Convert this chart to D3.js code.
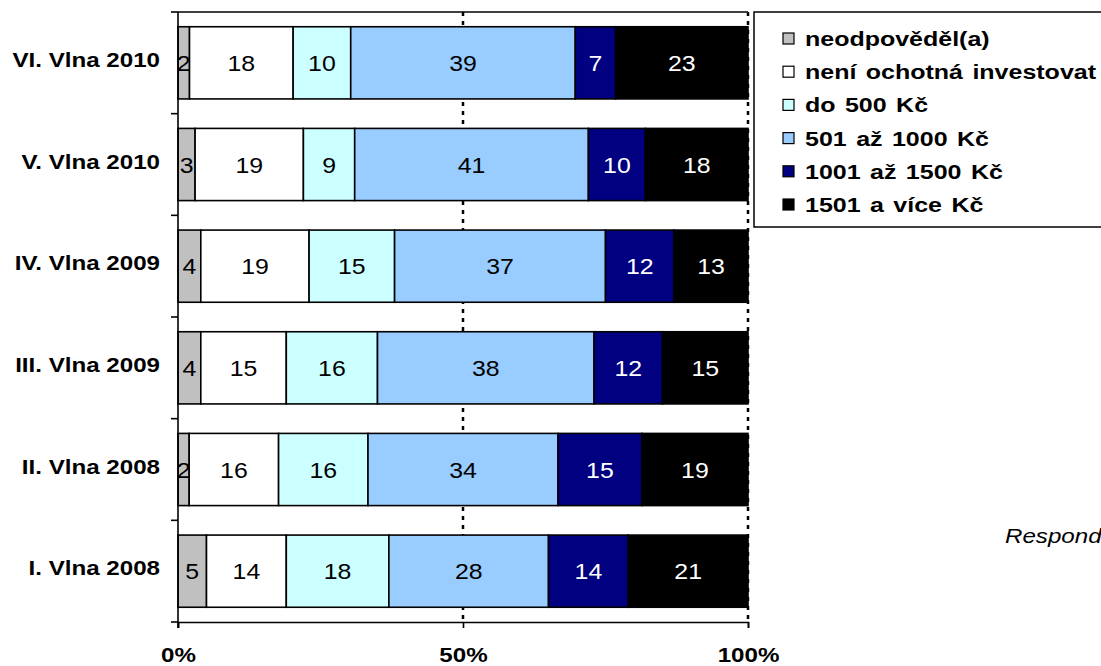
<!DOCTYPE html>
<html>
<head>
<meta charset="utf-8">
<script src="https://cdn.jsdelivr.net/npm/d3@7"></script>
<style>
  html, body { margin: 0; padding: 0; background: #fff; overflow: hidden; }
  svg { display: block; font-family: "Liberation Sans", Arial, sans-serif; }
</style>
</head>
<body>
<svg id="chart" width="1101" height="666"></svg>
<script>
// ---- data ----
const categories = ["VI. Vlna 2010", "V. Vlna 2010", "IV. Vlna 2009", "III. Vlna 2009", "II. Vlna 2008", "I. Vlna 2008"];
const seriesNames = ["neodpověděl(a)", "není ochotná investovat", "do 500 Kč", "501 až 1000 Kč", "1001 až 1500 Kč", "1501 a více Kč"];
const neodpovedel = [2, 3, 4, 4, 2, 5];
const neniOchotna = [18, 19, 19, 15, 16, 14];
const do500 = [10, 9, 15, 16, 16, 18];
const od501do1000 = [39, 41, 37, 38, 34, 28];
const od1001do1500 = [7, 10, 12, 12, 15, 14];
const od1501 = [23, 18, 13, 15, 19, 21];
const tickValues = [0, 0.5, 1];
const tickLabels = ["0%", "50%", "100%"];
const noteText = "Respondenti";

const seriesValues = [neodpovedel, neniOchotna, do500, od501do1000, od1001do1500, od1501];
const colors = ["#c0c0c0", "#ffffff", "#ccffff", "#99ccff", "#000080", "#000000"];
const labelColors = ["#000", "#000", "#000", "#000", "#fff", "#fff"];

const rows = categories.map((c, i) => {
  const r = { cat: c };
  seriesNames.forEach((s, j) => r[s] = seriesValues[j][i]);
  return r;
});

const svg = d3.select("#chart");
const pLeft = 178, pRight = 748, pTop = 12, pBottom = 622;

const x = d3.scaleLinear().domain([0, 1]).range([pLeft, pRight]);
const y = d3.scaleBand().domain(categories).range([pTop, pBottom]).paddingInner(0.29).paddingOuter(0.145);

const stacked = d3.stack().keys(seriesNames).offset(d3.stackOffsetExpand)(rows);

// gridlines (dashed) at 50% and 100%
svg.append("g").selectAll("line").data([0.5, 1]).join("line")
  .attr("x1", d => x(d)).attr("x2", d => x(d))
  .attr("y1", pTop).attr("y2", pBottom)
  .attr("stroke", "#000").attr("stroke-width", 2.5).attr("stroke-dasharray", "4,5");

// top border of plot area
svg.append("line").attr("x1", pLeft).attr("x2", pRight).attr("y1", pTop).attr("y2", pTop)
  .attr("stroke", "#000").attr("stroke-width", 1.5);

// bars
const layers = svg.append("g").selectAll("g").data(stacked).join("g")
  .attr("fill", (d, i) => colors[i]);
layers.selectAll("rect").data(d => d.map(p => ({ p, cat: p.data.cat }))).join("rect")
  .attr("x", d => x(d.p[0]))
  .attr("width", d => x(d.p[1]) - x(d.p[0]))
  .attr("y", d => y(d.cat))
  .attr("height", y.bandwidth())
  .attr("stroke", "#000").attr("stroke-width", 1.6);

// value labels (slightly widened glyphs, as in the reference)
stacked.forEach((layer, i) => {
  svg.append("g").selectAll("text").data(layer).join("text")
    .attr("transform", d => `translate(${(x(d[0]) + x(d[1])) / 2},${y(d.data.cat) + y.bandwidth() / 2 + 8}) scale(1.13,1)`)
    .attr("text-anchor", "middle")
    .attr("font-size", 22)
    .attr("fill", labelColors[i])
    .text(d => d.data[seriesNames[i]]);
});

// left axis (category labels)
const yAxis = svg.append("g").attr("transform", `translate(${pLeft},0)`)
  .call(d3.axisLeft(y).tickSize(0).tickPadding(16));
yAxis.select(".domain").remove();
yAxis.selectAll("text")
  .attr("font-size", 21).attr("font-weight", "bold")
  .attr("font-family", "'Liberation Sans', Arial, sans-serif")
  .attr("x", -18 / 1.15)
  .attr("transform", "scale(1.15,1)")
  .attr("fill", "#000").attr("dy", "0.2em");
// axis line + ticks at category boundaries
svg.append("line").attr("x1", pLeft).attr("x2", pLeft).attr("y1", pTop).attr("y2", pBottom + 6)
  .attr("stroke", "#000").attr("stroke-width", 1.6);
const boundaries = d3.range(categories.length + 1).map(i => pTop + i * y.step());
svg.append("g").selectAll("line").data(boundaries).join("line")
  .attr("x1", pLeft - 7).attr("x2", pLeft).attr("y1", d => d).attr("y2", d => d)
  .attr("stroke", "#000").attr("stroke-width", 1.6);

// bottom axis
const xAxis = svg.append("g").attr("transform", `translate(0,${pBottom})`)
  .call(d3.axisBottom(x).tickValues(tickValues).tickFormat((d, i) => tickLabels[i])
    .tickSizeOuter(0).tickSize(6).tickPadding(19));
xAxis.select(".domain").attr("stroke-width", 1.6);
xAxis.selectAll(".tick line").attr("stroke-width", 1.6);
xAxis.selectAll("text")
  .attr("font-size", 21).attr("font-weight", "bold")
  .attr("font-family", "'Liberation Sans', Arial, sans-serif")
  .attr("transform", "scale(1.15,1)")
  .attr("fill", "#000");

// legend
const legend = svg.append("g");
legend.append("rect").attr("x", 754).attr("y", 12).attr("width", 400).attr("height", 215)
  .attr("fill", "#fff").attr("stroke", "#000").attr("stroke-width", 1.5);
const items = legend.selectAll("g.item").data(seriesNames).join("g").attr("class", "item")
  .attr("transform", (d, i) => `translate(783,${46 + i * 33.2})`);
items.append("rect").attr("x", 0).attr("y", -13).attr("width", 11).attr("height", 11)
  .attr("fill", (d, i) => colors[i]).attr("stroke", "#000").attr("stroke-width", 1.2);
items.append("text")
  .attr("transform", "translate(22,0) scale(1.25,1)")
  .attr("font-size", 20).attr("font-weight", "bold").attr("word-spacing", "2px")
  .text(d => d);

// note text (runs past the right edge, as in the reference)
svg.append("text").attr("transform", "translate(1005,543) scale(1.15,1)")
  .attr("font-size", 21).attr("font-style", "italic")
  .text(noteText);
</script>
</body>
</html>
